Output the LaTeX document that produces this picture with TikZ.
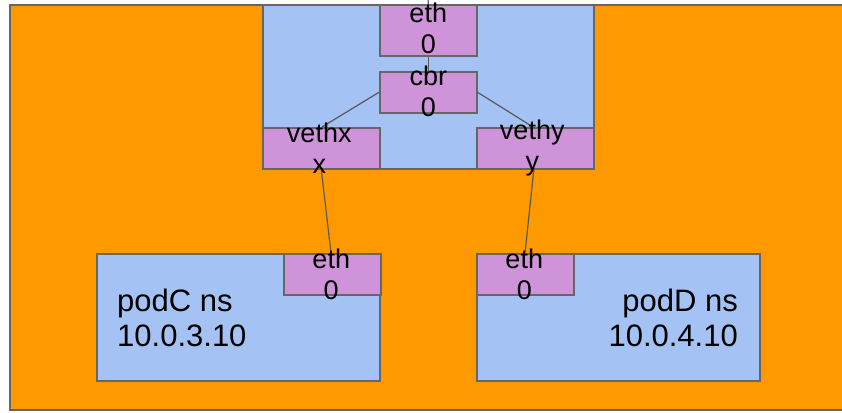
\documentclass[tikz,border=0pt]{standalone}
\usepackage{fontspec}
\setmainfont{Liberation Sans}
\usetikzlibrary{positioning}
\definecolor{hostc}{HTML}{FF9900}
\definecolor{nsc}{HTML}{A4C2F4}
\definecolor{portc}{HTML}{CE93D8}
\definecolor{edgec}{HTML}{666666}
\definecolor{wirec}{HTML}{595959}
\tikzset{
  nsbox/.style={draw=edgec,line width=1.5pt,fill=nsc,inner sep=0pt,anchor=north west},
  portbox/.style={draw=edgec,line width=1.5pt,fill=portc,inner sep=0pt,anchor=north west,
    minimum width=97pt,minimum height=41pt},
  portlbl/.style={align=center,inner sep=0pt,font=\fontsize{27}{31}\selectfont},
  nslbl/.style={inner sep=0pt,font=\fontsize{31}{35}\selectfont},
  wire/.style={draw=wirec,line width=1.2pt}
}
\begin{document}
\begin{tikzpicture}[x=1pt,y=-1pt]
	\useasboundingbox (0,0) rectangle (842,412);
	% host
	\fill[hostc] (10,5) rectangle (860,410);
	\draw[edgec,line width=1.5pt] (860,5) -- (10,5) -- (10,410) -- (860,410);
	% node ns
	\node[nsbox,minimum width=331pt,minimum height=163pt] (root) at (262,5) {};
	\node[portbox,minimum height=50pt] (eth) at (379,5) {};
	\node[portbox] (cbr) at (379,71) {};
	\node[portbox,minimum width=117pt] (vx) at (262,127) {};
	\node[portbox,minimum width=117pt] (vy) at (476,127) {};
	% pods
	\node[nsbox,minimum width=283pt,minimum height=127pt] (podC) at (96,253) {};
	\node[portbox] (ethC) at (283,253) {};
	\node[nsbox,minimum width=283pt,minimum height=127pt] (podD) at (476,253) {};
	\node[portbox] (ethD) at (476,253) {};
	% wires
	\coordinate (up) at (428,-5);
	\draw[wire] (up) -- (eth.north);
	\draw[wire] (eth.south) -- (cbr.north);
	\draw[wire] (cbr.west) -- (322,127);
	\draw[wire] (cbr.east) -- (533,127);
	\draw[wire] (vx.south) -- (331,253);
	\draw[wire] (534,168) -- (525,253);
	% labels
	\node[portlbl] at ([yshift=2pt]eth.center) {eth\\0};
	\node[portlbl] at ([yshift=1pt]cbr.center) {cbr\\0};
	\node[portlbl] at ([xshift=-2pt]vx.center) {vethx\\x};
	\node[portlbl] at ([xshift=-3pt]vy.center) {vethy\\y};
	\node[portlbl] at ([xshift=-1pt]ethC.center) {eth\\0};
	\node[portlbl] at ([xshift=-1pt]ethD.center) {eth\\0};
	\node[nslbl,align=left,anchor=west] at (117,318) {podC ns\\10.0.3.10};
	\node[nslbl,align=right,anchor=east] at (738,318) {podD ns\\10.0.4.10};
\end{tikzpicture}
\end{document}
